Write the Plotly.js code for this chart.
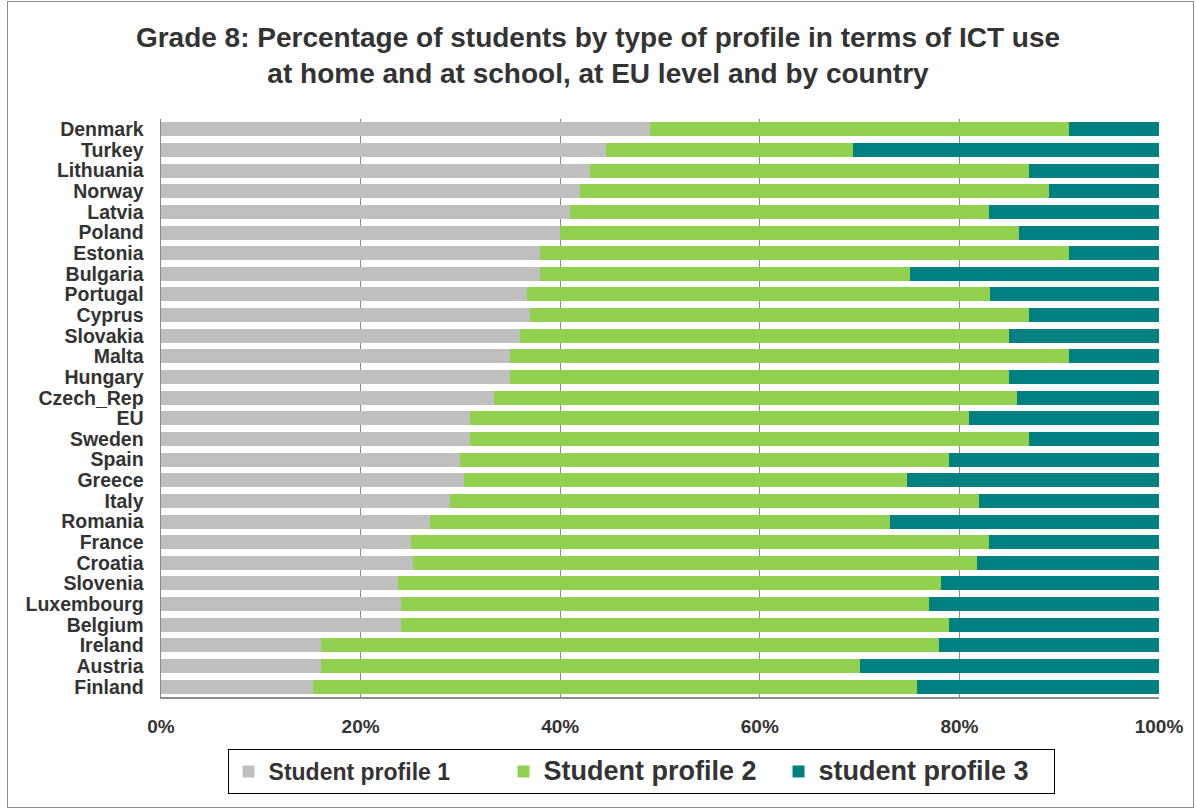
<!DOCTYPE html>
<html>
<head>
<meta charset="utf-8">
<script src="https://cdn.plot.ly/plotly-3.0.1.min.js"></script>
<style>
  html, body { margin: 0; padding: 0; background: #fff; }
  #wrap { position: relative; width: 1196px; height: 810px; }
  #chart { position: absolute; left: 0; top: 0; width: 1196px; height: 810px; }
  #frame { position: absolute; left: 7px; top: 1px; width: 1185px; height: 805px; border: 1.5px solid #8c8c8c; pointer-events: none; }
</style>
</head>
<body>
<div id="wrap">
  <div id="chart"></div>
  <div id="frame"></div>
</div>
<script>
const countries = ["Denmark","Turkey","Lithuania","Norway","Latvia","Poland","Estonia","Bulgaria","Portugal","Cyprus","Slovakia","Malta","Hungary","Czech_Rep","EU","Sweden","Spain","Greece","Italy","Romania","France","Croatia","Slovenia","Luxembourg","Belgium","Ireland","Austria","Finland"];
const profile1 = [49, 44.6, 43, 42, 41, 40, 38, 38, 36.7, 37, 36, 35, 35, 33.4, 31, 31, 30, 30.4, 29, 27, 25, 25.2, 23.7, 24, 24, 16, 16, 15.2];
const profile2 = [42, 24.7, 44, 47, 42, 46, 53, 37, 46.4, 50, 49, 56, 50, 52.4, 50, 56, 49, 44.3, 53, 46, 58, 56.6, 54.5, 53, 55, 62, 54, 60.6];
const profile3 = [9, 30.7, 13, 11, 17, 14, 9, 25, 16.9, 13, 15, 9, 15, 14.2, 19, 13, 21, 25.3, 18, 27, 17, 18.2, 21.8, 23, 21, 22, 30, 24.2];
const seriesNames = ["Student profile 1", "Student profile 2", "student profile 3"];
const xTickVals = [0, 20, 40, 60, 80, 100];
const xTickText = ["0%", "20%", "40%", "60%", "80%", "100%"];

const colors = ["#BFBFBF", "#92D050", "#008080"];
const legendSizes = [23, 27, 27];
const data = [profile1, profile2, profile3].map((vals, i) => ({
  type: "bar",
  orientation: "h",
  y: countries,
  x: vals,
  name: '<span style="font-size:' + legendSizes[i] + 'px">' + seriesNames[i] + '</span>',
  marker: { color: colors[i], line: { width: 0 } },
  hoverinfo: "x+y"
}));

const layout = {
  width: 1196,
  height: 810,
  paper_bgcolor: "#ffffff",
  plot_bgcolor: "#ffffff",
  barmode: "stack",
  bargap: 0.32,
  margin: { l: 161, r: 37, t: 119, b: 113 },
  font: { family: "Liberation Sans, Arial, sans-serif", color: "#333333" },
  title: {
    text: "<b>Grade 8: Percentage of students by type of profile in terms of ICT use<br>at home and at school, at EU level and by country</b>",
    font: { size: 28, color: "#333333", family: "Liberation Sans, Arial, sans-serif" },
    x: 0.5, xref: "container", xanchor: "center",
    y: 0.942, yref: "container", yanchor: "top"
  },
  xaxis: {
    range: [0, 100],
    tickvals: xTickVals,
    ticktext: xTickText,
    showgrid: true,
    gridcolor: "#8a8a8a",
    gridwidth: 1,
    zeroline: false,
    showline: true,
    linecolor: "#8a8a8a",
    linewidth: 1.5,
    ticks: "",
    tickfont: { size: 19, color: "#333333", family: "Liberation Sans, Arial, sans-serif", weight: "bold" },
    ticklabelstandoff: 12,
    fixedrange: true
  },
  yaxis: {
    type: "category",
    autorange: "reversed",
    tickmode: "array",
    tickvals: countries,
    ticktext: countries,
    showline: true,
    linecolor: "#8a8a8a",
    linewidth: 1.5,
    ticks: "",
    showgrid: false,
    tickfont: { size: 19.5, color: "#333333", family: "Liberation Sans, Arial, sans-serif", weight: "bold" },
    ticklabelstandoff: 12,
    fixedrange: true
  },
  legend: {
    orientation: "h",
    x: 0.481, xanchor: "center",
    y: -0.09, yanchor: "top",
    bordercolor: "#000000",
    borderwidth: 1,
    font: { size: 23, color: "#333333", family: "Liberation Sans, Arial, sans-serif", weight: "bold" },
    itemsizing: "constant",
    entrywidth: 230,
    entrywidthmode: "pixels",
    traceorder: "normal"
  },
  showlegend: true
};

Plotly.newPlot("chart", data, layout, { displayModeBar: false, staticPlot: true });
</script>
</body>
</html>
